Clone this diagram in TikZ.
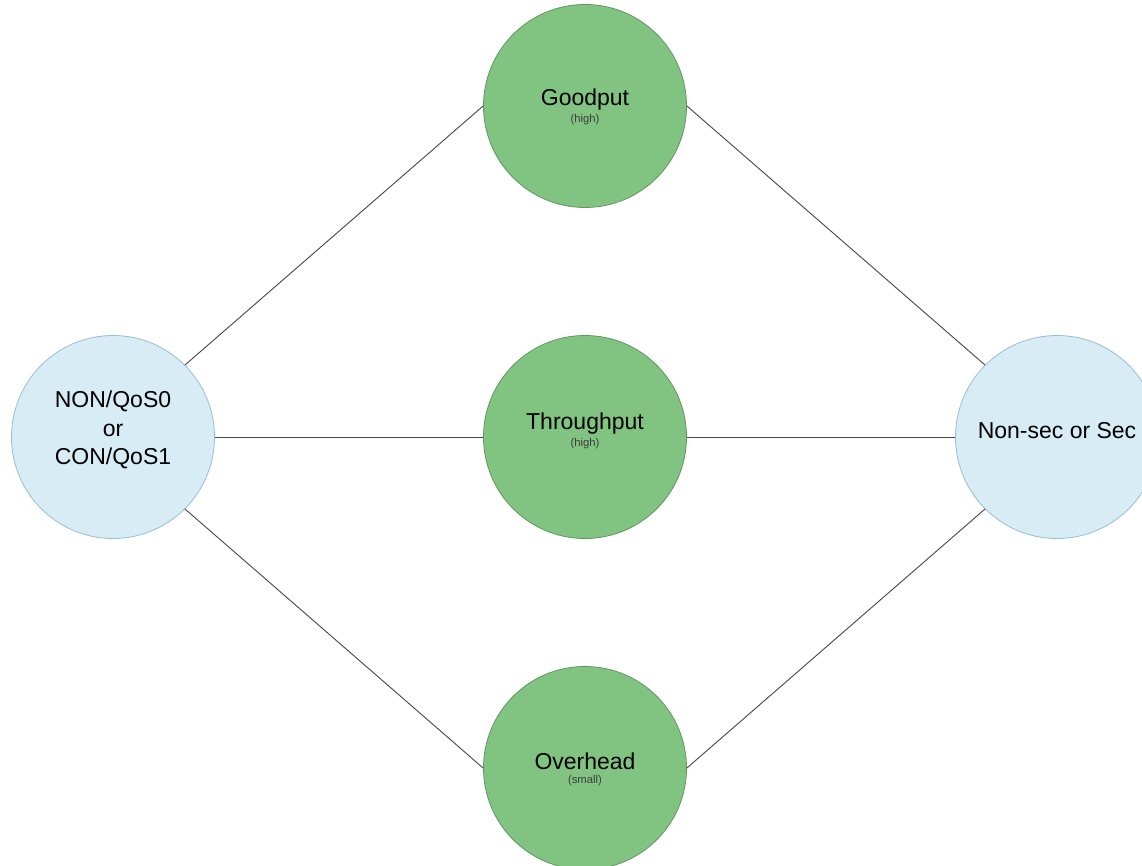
\documentclass[tikz,border=0pt]{standalone}
\usepackage{fontspec}
\setmainfont{Liberation Sans}
\definecolor{greenfill}{RGB}{129,196,129}
\definecolor{greenline}{RGB}{96,150,96}
\definecolor{bluefill}{RGB}{216,236,245}
\definecolor{blueline}{RGB}{150,190,214}
\definecolor{linkgray}{RGB}{70,70,70}
\definecolor{subgray}{RGB}{60,60,60}
\tikzset{
  metric/.style={circle, draw=greenline, fill=greenfill, line width=0.8pt, minimum size=203pt, inner sep=0pt},
  endpoint/.style={circle, draw=blueline, fill=bluefill, line width=0.8pt, minimum size=203pt, inner sep=0pt},
  title/.style={font=\fontsize{23}{28.5}\selectfont, text=black, align=center, inner sep=0pt},
  note/.style={font=\fontsize{11.3}{13}\selectfont, text=subgray, inner sep=0pt},
  link/.style={draw=linkgray, line width=0.9pt}
}
\begin{document}
\begin{tikzpicture}[x=1pt,y=-1pt]
  \useasboundingbox (0,0) rectangle (1142,866);
  \clip (0,0) rectangle (1142,866);
  \fill[white] (0,0) rectangle (1142,866);

  % connectors first, circles on top
  \coordinate (pL) at (113,437);
  \coordinate (pR) at (1057,437);
  \coordinate (pG) at (585,106);
  \coordinate (pT) at (585,437);
  \coordinate (pO) at (585,768);

  % circles
  \node[endpoint] (src) at (pL) {};
  \node[endpoint] (dst) at (pR) {};
  \node[metric] (good) at (pG) {};
  \node[metric] (thr) at (pT) {};
  \node[metric] (ovh) at (pO) {};

  % edges between the circles
  \draw[link] (src.north east) -- (good.west);
  \draw[link] (good.east) -- (dst.north west);
  \draw[link] (src.east) -- (thr.west);
  \draw[link] (thr.east) -- (dst.west);
  \draw[link] (src.south east) -- (ovh.west);
  \draw[link] (ovh.east) -- (dst.south west);

  % labels
  \node[title] (srcT) at (113,430) {NON/QoS0\\or\\CON/QoS1};
  \node[title] (dstT) at (1057,431) {Non-sec or Sec};
  \node[title] (goodT) at (585,100) {Goodput};
  \node[note] (goodN) at (585,120) {(high)};
  \node[title] (thrT) at (585,424) {Throughput};
  \node[note] (thrN) at (585,444) {(high)};
  \node[title] (ovhT) at (585,761) {Overhead};
  \node[note] (ovhN) at (585,781) {(small)};
\end{tikzpicture}
\end{document}
